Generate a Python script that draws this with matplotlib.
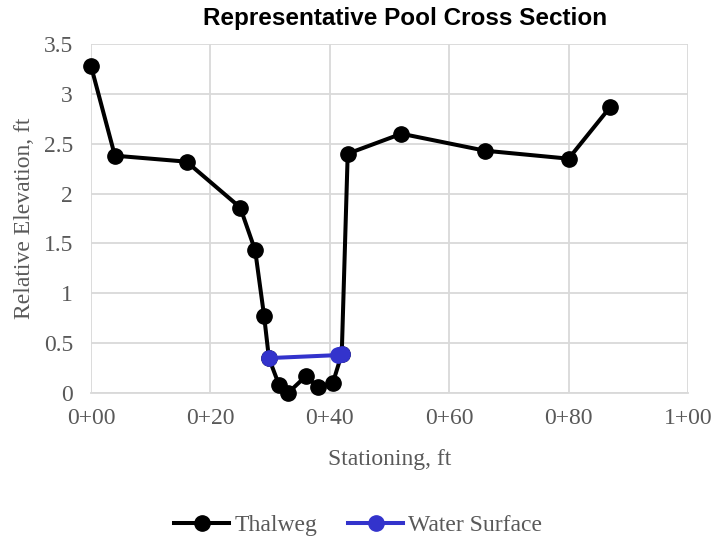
import matplotlib.pyplot as plt
from matplotlib.ticker import FuncFormatter

# Thalweg survey points (station ft, relative elevation ft)
thalweg_x = [0, 4, 16, 25, 27.5, 29, 29.8, 31.5, 33, 36, 38, 40.5, 42, 43, 52, 66, 80, 87]
thalweg_y = [3.28, 2.38, 2.32, 1.86, 1.43, 0.77, 0.35, 0.08, 0.0, 0.17, 0.06, 0.10, 0.39, 2.40, 2.60, 2.43, 2.35, 2.87]

# Water surface
ws_x = [29.8, 41.3, 42.0]
ws_y = [0.35, 0.38, 0.39]

x_ticks = [0, 20, 40, 60, 80, 100]
y_ticks = [0, 0.5, 1, 1.5, 2, 2.5, 3, 3.5]
y_labels = ['0', '0.5', '1', '1.5', '2', '2.5', '3', '3.5']

serif = ['Liberation Serif', 'DejaVu Serif']
gray = '#595959'

fig = plt.figure(figsize=(7.15, 5.42), dpi=100)
ax = fig.add_axes([91 / 715, 1 - 393 / 542, (688 - 91) / 715, (393 - 44) / 542])

ax.plot(thalweg_x, thalweg_y, color='black', lw=2.9, marker='o', ms=11, label='Thalweg',
        zorder=3, clip_on=False)
ax.plot(ws_x, ws_y, color='#3333CC', lw=2.9, marker='o', ms=11, label='Water Surface',
        zorder=4, clip_on=False)

ax.set_xlim(0, 100)
ax.set_ylim(0, 3.5)
ax.set_xticks(x_ticks)
ax.set_yticks(y_ticks)
ax.set_yticklabels(y_labels)
ax.xaxis.set_major_formatter(FuncFormatter(lambda v, p: '%d+%02d' % (int(v) // 100, int(v) % 100)))
ax.grid(True, color='#D9D9D9', lw=1.3)
ax.set_axisbelow(True)
for s in ['top', 'right', 'left']:
    ax.spines[s].set_visible(False)
ax.spines['bottom'].set_color('#D9D9D9')
ax.spines['bottom'].set_linewidth(1.3)
ax.tick_params(length=0, labelsize=17, labelcolor=gray)
ax.tick_params(axis='y', pad=13)
ax.tick_params(axis='x', pad=11)
for lab in ax.get_xticklabels() + ax.get_yticklabels():
    lab.set_family(serif)

ax.set_xlabel('Stationing, ft', fontsize=17, color=gray, family=serif, labelpad=14)
ax.set_ylabel('Relative Elevation, ft', fontsize=17, color=gray, family=serif, labelpad=6)
fig.text(405 / 715, 1 - 18 / 542, 'Representative Pool Cross Section', ha='center', va='center',
         fontsize=17.5, fontweight='bold', family=['Liberation Sans', 'DejaVu Sans'])

fig.legend(loc='center', bbox_to_anchor=(358 / 715, 1 - 525 / 542), ncol=2, frameon=False,
           prop={'family': serif, 'size': 17}, labelcolor=gray, handlelength=2.35,
           handletextpad=0.2, columnspacing=1.3, borderpad=0)

fig.savefig('out.png', dpi=100)
